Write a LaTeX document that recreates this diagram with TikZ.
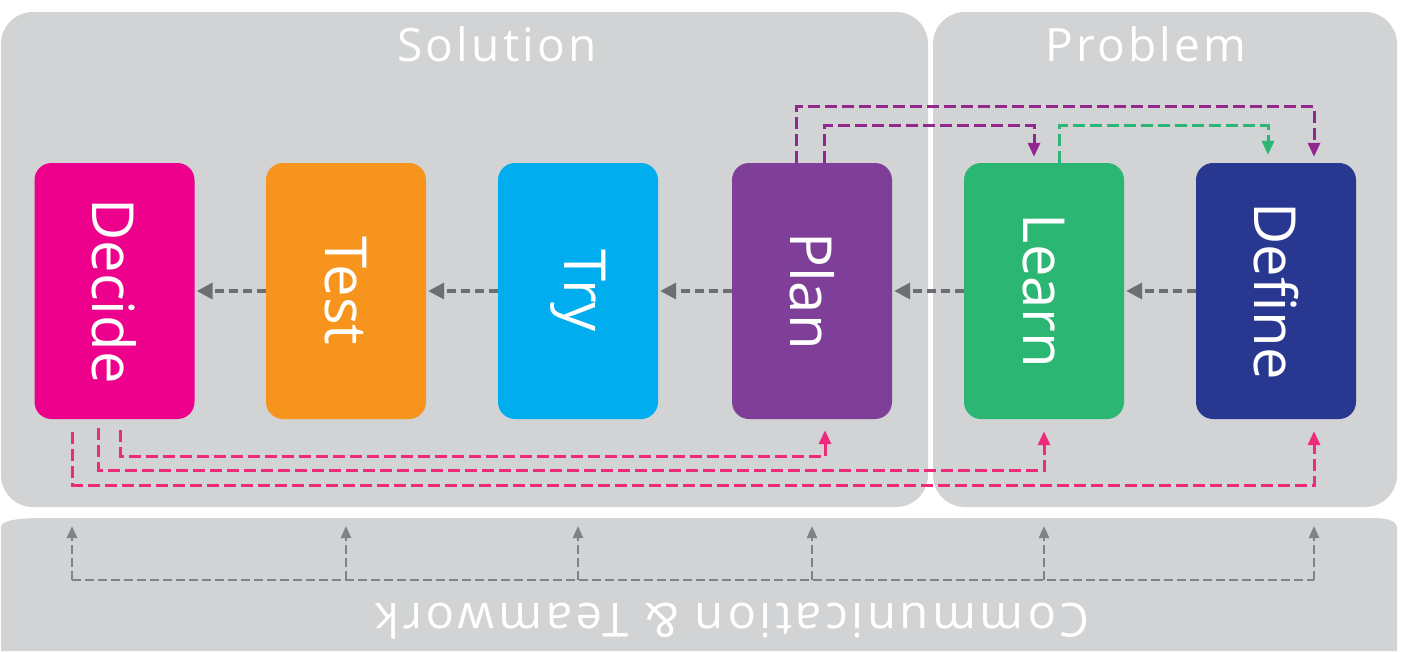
\documentclass[tikz,border=0pt]{standalone}
\usepackage{fontspec}
\setmainfont{Open Sans}
\newfontfamily\spaced{Open Sans}[LetterSpace=7]
\newfontfamily\spacedwide{Open Sans}[LetterSpace=8]
\usetikzlibrary{arrows.meta,calc}
\definecolor{panelgray}{HTML}{D1D3D4}
\definecolor{cdecide}{HTML}{EC008C}
\definecolor{ctest}{HTML}{F7941D}
\definecolor{ctry}{HTML}{00AEEF}
\definecolor{cplan}{HTML}{7F3F98}
\definecolor{clearn}{HTML}{2BB673}
\definecolor{cdefine}{HTML}{283891}
\definecolor{cpink}{HTML}{EE2A7B}
\definecolor{cpurple}{HTML}{92278F}
\definecolor{cgreen}{HTML}{2BB673}
\definecolor{cmidgray}{HTML}{6D6E71}
\definecolor{clowgray}{HTML}{808285}
\tikzset{
  panelbox/.style={fill=panelgray, draw=none, inner sep=0pt, rounded corners=32pt},
  stagebox/.style={draw=none, inner sep=0pt, minimum width=160pt, minimum height=256pt, rounded corners=17pt},
  stagetext/.style={text=white, font=\fontsize{58}{60}\selectfont, rotate=-90, inner sep=0pt},
  titletext/.style={text=white, font=\spaced\fontsize{46}{48}\selectfont, inner sep=0pt, anchor=base},
  commtext/.style={text=white, font=\spacedwide\fontsize{47}{50}\selectfont, inner sep=0pt, anchor=base, rotate=180},
  midarrow/.style={draw=cmidgray, line width=3.5pt, dash pattern=on 9pt off 5pt, -{Triangle[length=16pt,width=16pt]}, shorten >=2pt},
  fbarrow/.style={line width=3pt, dash pattern=on 12pt off 5pt, -{Triangle[length=14pt,width=12pt]}},
  pinkarrow/.style={fbarrow, draw=cpink},
  purplearrow/.style={fbarrow, draw=cpurple},
  greenarrow/.style={fbarrow, draw=cgreen},
  lowline/.style={draw=clowgray, line width=2.5pt, dash pattern=on 9pt off 4pt},
  lowarrow/.style={lowline, -{Triangle[length=12pt,width=10pt]}},
}
\begin{document}
\begin{tikzpicture}[x=1pt,y=-1pt]
\useasboundingbox (0,0) rectangle (1402,651);
\fill[white] (0,0) rectangle (1402,651);
% panels
\node[panelbox, minimum width=927pt, minimum height=495pt] (solution) at (464.5,259.5) {};
\node[panelbox, minimum width=464pt, minimum height=495pt] (problem) at (1165,259.5) {};
\fill[panelgray] (1,651) -- (1,527) .. controls (1,520) and (20,518) .. (45,518) -- (1370,518) .. controls (1390,518) and (1397,521) .. (1397,529) -- (1397,651) -- cycle;
% titles
\node[titletext] (soltitle) at (497,61) {Solution};
\node[titletext] (probtitle) at (1146,61) {Problem};
\node[commtext] (commtitle) at (732,603) {Communication \& Teamwork};
% stages
\node[stagebox, fill=cdecide] (decide) at (114.5,291) {};
\node[stagebox, fill=ctest]   (test)   at (346,291) {};
\node[stagebox, fill=ctry]    (try)    at (578,291) {};
\node[stagebox, fill=cplan]   (plan)   at (812,291) {};
\node[stagebox, fill=clearn]  (learn)  at (1044,291) {};
\node[stagebox, fill=cdefine] (define) at (1276,291) {};
\node[stagetext] (tdecide) at (decide.center) {Decide};
\node[stagetext] (ttest)   at (test.center) {Test};
\node[stagetext] (ttry)    at (try.center) {Try};
\node[stagetext] (tplan)   at (plan.center) {Plan};
\node[stagetext] (tlearn)  at (learn.center) {Learn};
\node[stagetext] (tdefine) at (define.center) {Define};
% main flow
\draw[midarrow] (test.west) -- (decide.east);
\draw[midarrow] (try.west) -- (test.east);
\draw[midarrow] (plan.west) -- (try.east);
\draw[midarrow] (learn.west) -- (plan.east);
\draw[midarrow] (define.west) -- (learn.east);
% top feedback
\draw[purplearrow] ($(plan.north)+(-16,0)$) |- ($(define.north)+(38,-56)$) -- ($(define.north)+(38,-6)$);
\draw[purplearrow] ($(plan.north)+(12,0)$) |- ($(learn.north)+(-10,-37)$) -- ($(learn.north)+(-10,-6)$);
\draw[greenarrow] ($(learn.north)+(15,0)$) |- ($(define.north)+(-8,-37)$) -- ($(define.north)+(-8,-8)$);
% bottom feedback
\draw[pinkarrow] ($(decide.south)+(6,11)$) |- ($(plan.south)+(13,37)$) -- ($(plan.south)+(13,11)$);
\draw[pinkarrow] ($(decide.south)+(-16,9)$) |- ($(learn.south)+(0,51)$) -- ($(learn.south)+(0,12)$);
\draw[pinkarrow] ($(decide.south)+(-42,13)$) |- ($(define.south)+(38,66)$) -- ($(define.south)+(38,12)$);
% communication arrows
\coordinate (c1) at (72,580);
\coordinate (c2) at (346,580);
\coordinate (c3) at (578,580);
\coordinate (c4) at (812,580);
\coordinate (c5) at (1044,580);
\coordinate (c6) at (1314,580);
\draw[lowline] (c1) -- (c6);
\foreach \c in {c1,c2,c3,c4,c5,c6}{
  \coordinate (\c top) at ($(\c)+(0,-54)$);
  \draw[lowarrow] (\c) -- (\c top);
}
\end{tikzpicture}
\end{document}
